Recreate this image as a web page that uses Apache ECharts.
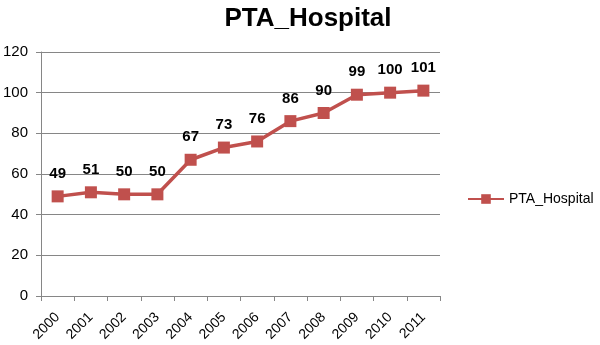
<!DOCTYPE html>
<html>
<head>
<meta charset="utf-8">
<script src="https://cdn.jsdelivr.net/npm/echarts@6/dist/echarts.min.js"></script>
<style>
  html, body { margin: 0; padding: 0; background: #fff; }
  #chart { width: 600px; height: 345px; }
</style>
</head>
<body>
<div id="chart"></div>
<script>
const years = ['2000', '2001', '2002', '2003', '2004', '2005', '2006', '2007', '2008', '2009', '2010', '2011'];
const hospital = [49, 51, 50, 50, 67, 73, 76, 86, 90, 99, 100, 101];
const seriesName = 'PTA_Hospital';

const font = 'Liberation Sans';
const myChart = echarts.init(document.getElementById('chart'));
const option = {
  animation: false,
  title: {
    text: 'PTA_Hospital',
    left: 303,
    textAlign: 'center',
    top: 1,
    textStyle: { fontFamily: font, fontSize: 26, fontWeight: 'bold', color: '#000' }
  },
  legend: {
    data: [seriesName],
    orient: 'vertical',
    left: 462,
    top: 187,
    itemWidth: 36,
    itemHeight: 12,
    itemGap: 4,
    textStyle: { fontFamily: font, fontSize: 14, color: '#000' }
  },
  grid: { left: 41, right: 160, top: 52, bottom: 49 },
  xAxis: {
    type: 'category',
    data: years,
    boundaryGap: true,
    axisLine: { lineStyle: { color: '#868686', width: 1 } },
    axisTick: { show: true, length: 5, lineStyle: { color: '#868686' } },
    axisLabel: { rotate: 45, margin: 19, fontFamily: font, fontSize: 14, color: '#000' }
  },
  yAxis: {
    type: 'value',
    min: 0,
    max: 120,
    interval: 20,
    axisLine: { show: true, lineStyle: { color: '#868686', width: 1 } },
    axisTick: { show: true, length: 5, lineStyle: { color: '#868686' } },
    splitLine: { lineStyle: { color: '#868686', width: 1 } },
    axisLabel: { margin: 13, fontFamily: font, fontSize: 15, color: '#000' }
  },
  series: [
    {
      name: seriesName,
      type: 'line',
      data: hospital,
      symbol: 'rect',
      symbolSize: 12,
      itemStyle: { color: '#C0504D' },
      lineStyle: { color: '#C0504D', width: 3.5 },
      label: {
        show: true,
        position: 'top',
        distance: 9,
        fontFamily: font,
        fontSize: 15,
        fontWeight: 'bold',
        color: '#000'
      }
    }
  ]
};
myChart.setOption(option);
</script>
</body>
</html>
